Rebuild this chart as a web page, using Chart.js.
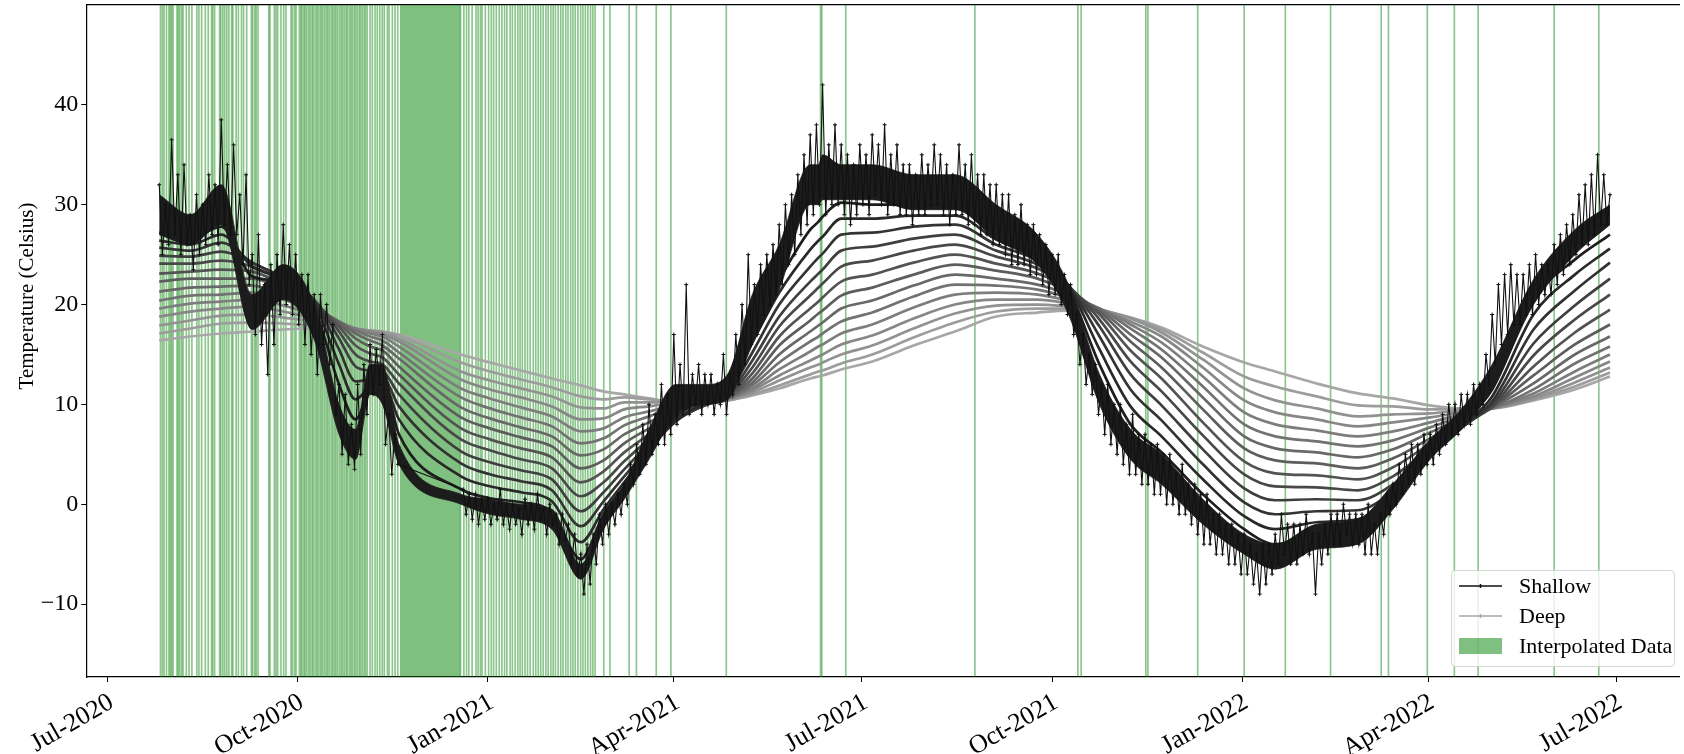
<!DOCTYPE html>
<html>
<head>
<meta charset="utf-8">
<title>Soil temperature profile</title>
<script src="https://cdn.jsdelivr.net/npm/chart.js@4/dist/chart.umd.min.js"></script>
<style>
  html, body { margin: 0; padding: 0; background: #ffffff; }
  #wrap { width: 1684px; height: 754px; position: relative; }
  canvas { display: block; }
</style>
</head>
<body>
<div id="wrap"><canvas id="c" width="1684" height="754"></canvas></div>
<script>
// Time is measured in days since 1 July 2020.
const tickDays = [0, 92, 184, 274, 365, 457, 549, 639, 730];
const tickLabels = ['Jul-2020', 'Oct-2020', 'Jan-2021', 'Apr-2021', 'Jul-2021', 'Oct-2021', 'Jan-2022', 'Apr-2022', 'Jul-2022'];
const tempTicks = [-10, 0, 10, 20, 30, 40];
const legendLabels = ['Shallow', 'Deep', 'Interpolated Data'];
const yTitle = 'Temperature (Celsius)';

// Shallowest sensor: daily highs (day 25, 28, ...) and lows (day 26.5, 29.5, ...); null = gap bridged by interpolation
const shallowStart = 25;
const shallowStep = 3;
const shallowHigh = [
  32, 30, 36.5, 33, 34, 29, 31, 30, 33, 32, 38.5, 34, 36, 31, 33, 25, 27, 22, 24, 25,
  28, 26, 25, 23, 23, 21, 21, 20, 18, 12, 11, 8, 12, 14, 16, 15.5, 17, 9, 7,
  null, null, null, null, null, null, null, null, null, null,
  1.5, 1, 1, 0.5, 0.5, 0, 1.5, 0, 0, -0.5, 0.5, 0, 1, -0.5, 0, -1, -1, -2, -3, -5,
  -4, -3, -1, 0, 0, 1, 2, 4, 6, 8, 10, 9, 12, 11, 17, 14, 22, 13, 14, 13,
  13, 12, 15, 13, 17, 20, 25, 22, 24, 25, 26, 28, 30, 31, 33, 35, 37, 38, 42, 36,
  38, 36, 35, 34, 36, 35, 37, 36, 38, 35, 36, 34, 34, 33, 35, 34, 36, 35, 34, 33,
  36, 34, 35, 33, 33, 32, 32, 31, 31, 29, 30, 28, 28, 27, 26, 25, 25, 23, 22, 19,
  17, 15, 14, 12, 12, 10, 10, 8, 9, 7, 7, 6, 6, 5, 5, 3, 4, 2, 2, 1,
  1, -1, -1, -2, -2, -3, -3, -4, -5, -4, -4, -3, -1, -2, -2, -2, -1, -3, -3, -2,
  -1, -1, 0, -1, -1, -1, 0, -2, -1, 1, 2, 4, 5, 6, 6, 7, 7, 8, 9, 10,
  10, 11, 11, 12, 12, 15, 19, 22, 23, 24, 23, 23, 24, 25, 24, 24, 26, 27, 28, 29,
  31, 32, 33, 35, 33, 31
];
const shallowLow = [
  25, 26, 27, 25, 26, 23.5, 25, 26, 27, 26, 28, 27, 27, 24, 22, 17, 16, 13, 16, 19,
  20, 19, 18, 16, 15, 13, 16, 14, 9, 5, 4, 3.5, 5, 9, 11, 12, 6, 3, 4,
  null, null, null, null, null, null, null, null, null, null,
  -1, -1.5, -2, -1.5, -2, -1.5, -2, -2.5, -2, -3, -2, -2.5, -1.5, -3, -2, -4, -3.5, -6, -7, -9,
  -8, -6, -4, -3, -2, -1, 0, 2, 3, 4, 5, 6, 6, 7, 8, 9, 9, 10, 9, 10,
  9, 10, 9, 11, 12, 14, 16, 17, 19, 20, 21, 22, 24, 25, 27, 28, 29, 30, 29, 30,
  30, 29, 28, 29, 30, 29, 31, 30, 29, 30, 29, 29, 28, 29, 29, 30, 30, 29, 28, 29,
  29, 28, 28, 27, 27, 26, 26, 25, 24, 24, 24, 23, 23, 22, 21, 21, 20, 19, 17, 14,
  12, 11, 9, 7, 6, 5, 4, 3, 3, 2, 2, 1, 1, 0, 0, -1, -1, -2, -3, -4,
  -4, -5, -5, -6, -6, -7, -7, -8, -9, -8, -7, -6, -5, -6, -6, -5, -5, -9, -6, -5,
  -4, -4, -3, -4, -4, -5, -5, -5, -3, -1, 0, 1, 2, 2, 3, 4, 4, 5, 6, 7,
  7, 8, 8, 9, 10, 12, 14, 16, 17, 18, 18, 19, 19, 20, 21, 21, 22, 23, 24, 25,
  26, 26, 27, 28, 28
];

// Dates of the smoothed profile readings
const profileDays = [25, 40, 55, 70, 85, 100, 112, 120, 127, 133, 141, 171, 185, 200, 215, 229, 240, 250, 262, 275,
  290, 300, 312, 325, 340, 344, 346, 355, 370, 390, 410, 430, 450, 465, 480, 495, 510, 530, 550, 565,
  585, 605, 622, 640, 655, 670, 690, 710, 727];

// Typical daily range of the shallowest sensor at the profile dates
const shallowCoreHi = [31, 29, 32, 21, 24, 20, 10, 7.5, 14, 14, 6, 1, 0.5, 0, -0.5, -6, -1, 2, 7.5, 12,
  12, 13, 21, 26, 34, 34, 35, 34, 34, 33, 33, 30, 27, 22, 13, 7.5, 5, 0.5, -3, -4,
  -2, -1.5, 2, 6.5, 9.5, 14, 22.5, 27.5, 30];
const shallowCoreLo = [27, 26, 28, 17.5, 20.5, 16.5, 7, 4.5, 11, 10, 4, 0, -1, -1.5, -2.5, -7.5, -2.5, 0.5, 4.5, 9,
  10, 10.5, 16, 21.5, 30, 30, 30.5, 30.5, 30.5, 29.5, 29.5, 26.5, 24, 19, 10, 4.5, 2, -2, -5, -6.5,
  -4.5, -4, -0.5, 4.5, 7.5, 11.5, 20, 25, 28];

// Sensors from just below the surface (depth01) to the deepest (depth14)
const depth01 = [27.2, 26.6, 27.8, 22.8, 22.3, 19.6, 12.0, 8.5, 11.5, 12.5, 7.0, 1.5, 0.6, 0.2, -0.8, -5.5, -1.0, 1.8, 5.5, 8.8,
  10.6, 11.6, 17.5, 22.5, 27.5, 28.3, 28.8, 30.2, 30.0, 30.0, 29.8, 27.0, 25.0, 21.5, 14.0, 8.0, 5.2, 1.0, -2.5, -4.0,
  -2.8, -2.2, 0.5, 5.0, 8.0, 11.5, 20.5, 24.5, 27.0];
const depth02 = [26.4, 26.0, 27.0, 23.8, 22.6, 20.1, 14.0, 10.5, 11.8, 12.3, 8.5, 2.8, 1.8, 1.2, 0.3, -3.8, -0.5, 2.2, 5.4, 8.4,
  10.3, 11.3, 16.2, 21.2, 25.5, 26.4, 26.8, 28.6, 28.6, 28.9, 28.9, 26.5, 24.7, 21.8, 15.5, 9.8, 6.8, 2.5, -1.2, -2.5,
  -1.8, -1.5, 0.8, 4.8, 7.7, 10.8, 19.0, 23.0, 25.6];
const depth03 = [25.7, 25.4, 26.2, 24.2, 22.7, 20.4, 15.5, 12.3, 12.5, 12.7, 9.8, 4.1, 3.0, 2.3, 1.4, -2.2, 0.3, 2.8, 5.6, 8.3,
  10.1, 11.1, 15.2, 20.0, 23.8, 24.7, 25.1, 27.0, 27.2, 27.8, 28.0, 26.0, 24.4, 21.9, 16.8, 11.5, 8.4, 4.0, 0.2, -1.0,
  -0.7, -0.6, 1.3, 4.9, 7.6, 10.3, 17.5, 21.4, 24.2];
const depth04 = [24.9, 24.8, 25.3, 24.2, 22.6, 20.5, 16.6, 13.8, 13.4, 13.3, 11.0, 5.3, 4.2, 3.4, 2.5, -0.7, 1.2, 3.5, 6.0, 8.4,
  10.0, 10.9, 14.4, 18.8, 22.3, 23.1, 23.5, 25.4, 25.8, 26.6, 27.0, 25.4, 24.0, 21.9, 17.8, 13.0, 9.9, 5.5, 1.6, 0.4,
  0.5, 0.4, 2.0, 5.2, 7.7, 10.0, 16.1, 19.9, 22.6];
const depth05 = [24.1, 24.1, 24.4, 23.8, 22.3, 20.4, 17.3, 15.0, 14.3, 14.0, 12.1, 6.5, 5.4, 4.5, 3.6, 0.8, 2.2, 4.3, 6.5, 8.6,
  10.0, 10.8, 13.7, 17.8, 20.9, 21.7, 22.1, 23.8, 24.4, 25.4, 26.0, 24.8, 23.6, 21.8, 18.5, 14.3, 11.3, 6.9, 3.0, 1.8,
  1.7, 1.4, 2.8, 5.6, 7.9, 9.8, 14.9, 18.5, 21.0];
const depth06 = [23.1, 23.3, 23.5, 23.3, 22.0, 20.2, 17.8, 15.9, 15.1, 14.7, 13.0, 7.6, 6.5, 5.6, 4.7, 2.2, 3.3, 5.2, 7.0, 8.9,
  10.0, 10.7, 13.1, 16.8, 19.6, 20.3, 20.7, 22.3, 23.0, 24.2, 25.0, 24.1, 23.1, 21.6, 19.0, 15.4, 12.6, 8.2, 4.3, 3.1,
  2.9, 2.5, 3.7, 6.1, 8.1, 9.7, 13.8, 17.2, 19.5];
const depth07 = [22.3, 22.6, 22.6, 22.6, 21.5, 19.9, 18.1, 16.6, 15.8, 15.4, 13.8, 8.7, 7.6, 6.7, 5.8, 3.6, 4.4, 6.1, 7.6, 9.2,
  10.1, 10.7, 12.6, 15.9, 18.4, 19.1, 19.4, 20.9, 21.7, 23.0, 24.0, 23.4, 22.6, 21.3, 19.3, 16.3, 13.7, 9.5, 5.6, 4.4,
  4.1, 3.6, 4.6, 6.6, 8.3, 9.7, 12.9, 16.0, 18.0];
const depth08 = [21.3, 21.7, 21.8, 21.9, 21.0, 19.6, 18.3, 17.1, 16.4, 15.9, 14.6, 9.7, 8.6, 7.7, 6.8, 4.9, 5.5, 7.0, 8.2, 9.5,
  10.2, 10.6, 12.2, 15.0, 17.3, 17.9, 18.2, 19.6, 20.4, 21.9, 23.0, 22.6, 22.0, 21.0, 19.5, 17.0, 14.7, 10.7, 6.8, 5.6,
  5.2, 4.7, 5.5, 7.2, 8.6, 9.7, 12.1, 15.0, 16.8];
const depth09 = [20.4, 20.9, 21.0, 21.2, 20.5, 19.3, 18.3, 17.4, 16.8, 16.4, 15.2, 10.7, 9.6, 8.7, 7.8, 6.1, 6.6, 7.9, 8.8, 9.8,
  10.3, 10.6, 11.9, 14.2, 16.3, 16.8, 17.1, 18.3, 19.2, 20.8, 22.0, 21.9, 21.5, 20.7, 19.6, 17.6, 15.5, 11.8, 8.0, 6.8,
  6.3, 5.8, 6.4, 7.7, 8.8, 9.6, 11.5, 14.1, 15.8];
const depth10 = [19.6, 20.1, 20.3, 20.5, 19.9, 19.0, 18.2, 17.6, 17.1, 16.8, 15.8, 11.6, 10.6, 9.7, 8.8, 7.3, 7.6, 8.7, 9.3, 10.0,
  10.3, 10.6, 11.6, 13.5, 15.3, 15.8, 16.0, 17.1, 18.0, 19.7, 21.0, 21.2, 21.0, 20.4, 19.6, 18.0, 16.2, 12.8, 9.2, 8.0,
  7.4, 6.8, 7.3, 8.2, 9.0, 9.6, 11.1, 13.3, 15.0];
const depth11 = [18.8, 19.3, 19.6, 19.8, 19.3, 18.6, 18.1, 17.6, 17.3, 17.0, 16.3, 12.5, 11.5, 10.7, 9.8, 8.5, 8.6, 9.5, 9.8, 10.2,
  10.3, 10.5, 11.4, 12.9, 14.4, 14.8, 15.0, 16.0, 16.9, 18.6, 20.0, 20.5, 20.5, 20.1, 19.5, 18.3, 16.8, 13.7, 10.4, 9.2,
  8.5, 7.8, 8.2, 8.7, 9.2, 9.6, 10.8, 12.7, 14.3];
const depth12 = [17.9, 18.4, 18.9, 19.0, 18.7, 18.3, 17.9, 17.6, 17.4, 17.2, 16.6, 13.3, 12.4, 11.6, 10.8, 9.7, 9.6, 10.2, 10.2, 10.3,
  10.3, 10.5, 11.2, 12.4, 13.7, 14.0, 14.2, 15.0, 15.9, 17.6, 19.1, 19.9, 20.0, 19.8, 19.5, 18.6, 17.2, 14.5, 11.6, 10.4,
  9.6, 8.8, 9.0, 9.1, 9.4, 9.6, 10.6, 12.2, 13.7];
const depth13 = [17.1, 17.6, 18.1, 18.2, 18.1, 17.9, 17.8, 17.5, 17.4, 17.3, 16.9, 14.2, 13.3, 12.5, 11.7, 10.8, 10.5, 10.7, 10.5, 10.3,
  10.3, 10.4, 11.0, 11.9, 13.0, 13.3, 13.4, 14.1, 15.0, 16.7, 18.2, 19.3, 19.6, 19.6, 19.4, 18.7, 17.5, 15.2, 12.8, 11.8,
  10.8, 9.9, 9.8, 9.5, 9.5, 9.6, 10.5, 11.8, 13.2];
const depth14 = [16.4, 16.8, 17.1, 17.3, 17.5, 17.6, 17.6, 17.5, 17.4, 17.3, 17.0, 15.0, 14.2, 13.4, 12.6, 11.9, 11.3, 11.0, 10.6, 10.2,
  10.2, 10.4, 10.9, 11.6, 12.6, 12.8, 12.9, 13.5, 14.3, 15.9, 17.3, 18.8, 19.2, 19.4, 19.3, 18.7, 17.7, 15.8, 14.2, 13.3,
  12.1, 11.1, 10.6, 9.9, 9.6, 9.6, 10.4, 11.5, 12.8];

// Timestamps (days) of gap-filled records, and one long gap-filled stretch
const interpDays = [
  25.6, 26.5, 27.3, 28.5, 29.7, 30.4, 31.0, 31.7, 33.6, 34.2, 34.9, 35.8, 36.5, 38.1, 39.4, 40.8, 43.2, 44.2, 45.5, 47.3,
  48.7, 50.3, 50.9, 51.8, 54.2, 54.8, 55.8, 56.7, 57.7, 58.7, 60.0, 60.6, 62.2, 63.3, 64.8, 65.8, 67.3, 69.6, 70.2, 71.2,
  71.9, 72.8, 78.0, 78.6, 80.7, 81.5, 82.3, 83.9, 85.2, 86.3, 88.8, 89.5, 90.5, 91.2,
  92.8, 93.5, 94.1, 95.0, 95.6, 96.4, 97.3, 98.0, 98.9, 99.5, 100.4, 101.2, 101.9, 102.8, 103.5, 104.2, 105.1, 105.9,
  106.6, 107.4, 108.3, 109.0, 109.8, 110.5, 111.3, 112.2, 113.0, 113.7, 114.5, 115.4, 116.0, 116.9, 117.7, 118.4,
  119.3, 120.0, 120.8, 121.7, 122.4, 123.2, 124.1, 124.8, 125.6, 127.0, 128.1, 129.4, 130.5, 131.7, 132.9, 133.9,
  135.4, 136.2, 137.8, 139.1, 140.4,
  170.8, 172.4, 173.7, 174.8, 176.4, 178.3, 179.3, 180.4, 181.2, 182.8, 184.4, 185.7, 186.8, 188.1, 189.5, 190.8,
  192.1, 193.2, 194.8, 195.9, 197.2, 198.5, 199.6, 200.7, 202.0, 203.2, 204.5, 206.0, 207.2, 208.4, 209.6, 210.8,
  212.1, 213.2, 214.5, 215.6, 216.7, 218.0, 219.3, 220.4, 221.7, 222.8, 224.1, 225.2, 226.3, 227.6, 228.9, 230.0,
  231.2, 232.4, 233.7, 234.8, 235.9, 240.1,
  243.1, 252.4, 255.9, 265.5, 272.6, 299.4, 345.0, 345.6, 357.2, 419.7, 469.5, 471.1,
  502.4, 503.4, 527.5, 550.0, 569.9, 591.8, 616.3, 619.8, 638.6, 651.7, 663.2, 700.0, 721.6
];
const interpBlock = [141.4, 170.8];

// Axis limits
const X_MIN = -10.3, X_MAX = 760.4;
const Y_MIN = -17.3, Y_MAX = 50;

const SERIF = '"Liberation Serif", "Times New Roman", Times, serif';
const GREEN = 'rgba(0,128,0,0.5)';
const depthSeries = [depth01, depth02, depth03, depth04, depth05, depth06, depth07,
                     depth08, depth09, depth10, depth11, depth12, depth13, depth14];
const grayFor = k => { const g = Math.round(30 + k * 10.5); return `rgb(${g},${g},${g})`; };
const DEEP_GRAY = grayFor(depthSeries.length - 1);

// shallow readings in time order: high, low, high, low ...
const shallowPoints = [];
shallowHigh.forEach((v, i) => {
  shallowPoints.push({ x: shallowStart + i * shallowStep, y: v });
  if (i < shallowLow.length) shallowPoints.push({ x: shallowStart + i * shallowStep + shallowStep / 2, y: shallowLow[i] });
});

const datasets = [];

// interpolated-record markers, drawn underneath everything
datasets.push({
  type: 'bar', label: 'Interpolated Data',
  data: interpDays.map(d => ({ x: d, y: [Y_MIN, Y_MAX] })),
  backgroundColor: 'rgba(0,128,0,0.45)', borderWidth: 0, barThickness: 1, grouped: false, order: 100
});
datasets.push({
  type: 'line', label: 'Interpolated span',
  data: [{ x: interpBlock[0], y: Y_MAX }, { x: interpBlock[1], y: Y_MAX }],
  fill: 'start', backgroundColor: GREEN, borderWidth: 0, pointRadius: 0, order: 99
});

// depth profiles, deepest drawn first
depthSeries.forEach((vals, k) => {
  datasets.push({
    type: 'line', label: 'Depth ' + (k + 1),
    data: profileDays.map((d, i) => ({ x: d, y: vals[i] })),
    borderColor: grayFor(k), borderWidth: 2.7, pointRadius: 0,
    cubicInterpolationMode: 'monotone', fill: false, order: 20 + k
  });
});

// shallow sensor typical daily band
datasets.push({
  type: 'line', label: 'Shallow low',
  data: profileDays.map((d, i) => ({ x: d, y: shallowCoreLo[i] })),
  borderColor: '#1c1c1c', borderWidth: 0.8, pointRadius: 0,
  cubicInterpolationMode: 'monotone', fill: false, order: 5
});
const coreLowIndex = datasets.length - 1;
datasets.push({
  type: 'line', label: 'Shallow high',
  data: profileDays.map((d, i) => ({ x: d, y: shallowCoreHi[i] })),
  borderColor: '#1c1c1c', borderWidth: 0.8, pointRadius: 0,
  cubicInterpolationMode: 'monotone', fill: { target: coreLowIndex }, backgroundColor: '#1c1c1c', order: 4
});

// shallow sensor readings with their extremes
datasets.push({
  type: 'line', label: 'Shallow',
  data: shallowPoints,
  borderColor: '#111111', borderWidth: 1.1, tension: 0, spanGaps: true,
  pointStyle: 'cross', pointRadius: 2, pointBorderWidth: 1, pointBorderColor: '#111111',
  fill: false, order: 1
});

// legend box in the lower-right corner of the plot, and the y-axis caption
const cornerLegend = {
  id: 'cornerLegend',
  afterDraw(chart) {
    const ctx = chart.ctx;
    const x0 = 1451.5, y0 = 570.5, w = 223, h = 96, r = 4;
    ctx.save();
    ctx.beginPath();
    ctx.moveTo(x0 + r, y0);
    ctx.lineTo(x0 + w - r, y0); ctx.quadraticCurveTo(x0 + w, y0, x0 + w, y0 + r);
    ctx.lineTo(x0 + w, y0 + h - r); ctx.quadraticCurveTo(x0 + w, y0 + h, x0 + w - r, y0 + h);
    ctx.lineTo(x0 + r, y0 + h); ctx.quadraticCurveTo(x0, y0 + h, x0, y0 + h - r);
    ctx.lineTo(x0, y0 + r); ctx.quadraticCurveTo(x0, y0, x0 + r, y0);
    ctx.closePath();
    ctx.fillStyle = 'rgba(255,255,255,0.8)';
    ctx.fill();
    ctx.strokeStyle = 'rgba(204,204,204,0.8)';
    ctx.lineWidth = 1;
    ctx.stroke();

    const sx0 = 1459, sx1 = 1502, tx = 1519;
    const rows = [586, 616, 646];
    ctx.strokeStyle = '#111111'; ctx.lineWidth = 1.5;
    ctx.beginPath(); ctx.moveTo(sx0, rows[0]); ctx.lineTo(sx1, rows[0]); ctx.stroke();
    ctx.beginPath(); ctx.moveTo((sx0 + sx1) / 2, rows[0] - 2); ctx.lineTo((sx0 + sx1) / 2, rows[0] + 2); ctx.stroke();
    ctx.strokeStyle = DEEP_GRAY; ctx.lineWidth = 1.5;
    ctx.beginPath(); ctx.moveTo(sx0, rows[1]); ctx.lineTo(sx1, rows[1]); ctx.stroke();
    ctx.beginPath(); ctx.moveTo((sx0 + sx1) / 2, rows[1] - 2); ctx.lineTo((sx0 + sx1) / 2, rows[1] + 2); ctx.stroke();
    ctx.fillStyle = GREEN;
    ctx.fillRect(sx0, rows[2] - 8, sx1 - sx0, 16);

    ctx.fillStyle = '#000000';
    ctx.font = '22px ' + SERIF;
    ctx.textBaseline = 'middle';
    ctx.textAlign = 'left';
    legendLabels.forEach((t, i) => ctx.fillText(t, tx, rows[i] + 1));

    // y-axis caption
    ctx.translate(27, 296);
    ctx.rotate(-Math.PI / 2);
    ctx.textAlign = 'center';
    ctx.font = '21px ' + SERIF;
    ctx.fillText(yTitle, 0, 0);
    ctx.restore();
  }
};

new Chart(document.getElementById('c'), {
  type: 'line',
  data: { datasets },
  options: {
    responsive: false,
    animation: false,
    devicePixelRatio: 1,
    events: [],
    layout: { padding: { top: 4.2, right: 0, bottom: 0, left: 0 } },
    plugins: { legend: { display: false }, tooltip: { enabled: false }, title: { display: false } },
    scales: {
      x: {
        type: 'linear', position: 'bottom', min: X_MIN, max: X_MAX, offset: false,
        afterBuildTicks: s => { s.ticks = tickDays.map(v => ({ value: v })); },
        afterFit: s => { s.height = 77; s.paddingLeft = 0; s.paddingRight = 0; },
        ticks: {
          autoSkip: false, minRotation: 30, maxRotation: 30, padding: 5, labelOffset: 4,
          color: '#000000', font: { family: SERIF, size: 26 },
          callback: v => tickLabels[tickDays.indexOf(v)]
        },
        grid: { display: true, drawOnChartArea: false, drawTicks: true, tickLength: 5, color: '#000000', offset: false },
        border: { display: true, color: '#000000', width: 1.2 }
      },
      x2: {
        type: 'linear', position: 'top', min: X_MIN, max: X_MAX, offset: false,
        afterFit: s => { s.height = 0; s.paddingLeft = 0; s.paddingRight = 0; },
        ticks: { display: false },
        grid: { display: false },
        border: { display: true, color: '#000000', width: 1.2 }
      },
      y: {
        type: 'linear', position: 'left', min: Y_MIN, max: Y_MAX,
        afterBuildTicks: s => { s.ticks = tempTicks.map(v => ({ value: v })); },
        afterFit: s => { s.width = 86.3; s.paddingTop = 0; s.paddingBottom = 0; },
        ticks: {
          color: '#000000', font: { family: SERIF, size: 24 }, padding: 3,
          callback: v => (v < 0 ? '\u2212' + Math.abs(v) : String(v))
        },
        grid: { display: true, drawOnChartArea: false, drawTicks: true, tickLength: 5, color: '#000000' },
        border: { display: true, color: '#000000', width: 1.2 }
      }
    }
  },
  plugins: [cornerLegend]
});
</script>
</body>
</html>
